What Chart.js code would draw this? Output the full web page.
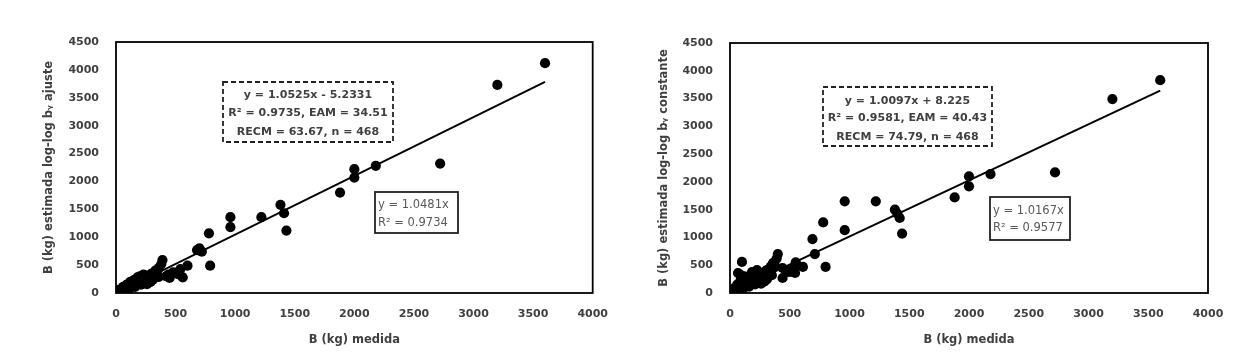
<!DOCTYPE html>
<html>
<head>
<meta charset="utf-8">
<script src="https://cdn.jsdelivr.net/npm/chart.js@4"></script>
<style>
  body { margin: 0; background: #fff; }
  #tudo { position: relative; width: 1243px; height: 363px; }
  #tudo canvas { position: absolute; top: 0; }
</style>
</head>
<body>
<div id="tudo">
  <canvas id="g1" width="615" height="363" style="left:0"></canvas>
  <canvas id="g2" width="628" height="363" style="left:615px"></canvas>
</div>
<script>
// B medida x B estimada (log-log b_y ajuste)
const pontosAjuste = [
  [3600,4120],[3200,3730],[2720,2320],[2180,2280],[2000,2220],[2000,2070],[1880,1800],
  [1380,1580],[1410,1430],[1430,1120],[1220,1360],[960,1360],[960,1180],[780,1070],
  [700,800],[680,770],[720,740],[790,490],[600,490],[560,280],[540,430],[520,340],
  [390,590],[380,520],[360,450],[330,400],[450,270],[420,300],[480,370],[440,330],
  [360,290],[300,350],
  [5,4],[8,10],[10,7],[12,14],[15,12],[18,20],[20,17],[22,26],[25,22],[28,33],[30,27],
  [32,38],[35,30],[38,45],[40,36],[42,50],[45,40],[48,58],[50,44],[52,62],[55,50],
  [58,70],[60,52],[62,75],[65,58],[68,82],[70,62],[72,90],[75,68],[78,95],[80,70],
  [82,100],[85,78],[88,110],[90,80],[95,120],[100,90],[105,130],[110,100],[115,140],
  [120,108],[125,150],[130,118],[135,165],[140,125],[145,175],[150,135],[155,190],
  [160,145],[165,200],[170,150],[175,215],[180,160],[185,230],[190,170],[200,250],
  [205,185],[210,270],[220,200],[225,285],[230,210],[240,300],[245,220],[250,240],
  [260,310],[265,230],[270,180],[280,260],[290,200],[300,280],[310,240],[320,330],
  [340,380],[350,310],[30,60],[60,110],[90,150],[120,200],[150,230],[180,280],
  [200,300],[230,330],[70,40],[110,70],[160,110],[210,150],[260,160]
];
// B medida x B estimada (log-log b_y constante)
const pontosConstante = [
  [3600,3830],[3200,3490],[2720,2170],[2180,2140],[2000,2100],[2000,1920],[1880,1720],
  [1380,1500],[1400,1430],[1420,1350],[1440,1070],[1220,1650],[960,1650],[960,1130],
  [780,1270],[690,970],[710,700],[800,470],[610,470],[550,550],[560,500],[470,400],
  [440,270],[400,700],[390,620],[360,540],[380,480],[340,470],[300,400],[100,560],
  [84,330],[120,300],[500,380],[520,420],[440,450],[184,378],[226,414],[310,414],
  [352,504],[477,378],[544,360],[67,360],
  [5,6],[8,12],[10,9],[12,18],[15,14],[18,26],[20,20],[22,34],[25,25],[28,42],[30,30],
  [32,50],[35,34],[38,60],[40,40],[42,70],[45,45],[48,80],[50,48],[52,90],[55,55],
  [58,100],[60,56],[62,110],[65,62],[68,120],[70,66],[72,135],[75,72],[78,150],[80,74],
  [82,160],[85,82],[88,180],[90,86],[95,200],[100,92],[105,210],[110,104],[115,230],
  [120,112],[125,240],[130,122],[135,250],[140,128],[145,260],[150,138],[155,280],
  [160,148],[165,290],[170,154],[175,300],[180,162],[185,320],[190,172],[200,330],
  [205,188],[210,340],[220,204],[225,350],[230,214],[240,300],[245,224],[250,260],
  [260,330],[265,236],[270,190],[280,280],[290,210],[300,300],[310,250],[320,350],
  [340,390],[350,320],[30,80],[60,150],[90,240],[120,260],[150,200],[180,250],
  [200,280],[230,300],[70,45],[110,75],[160,115],[210,155],[260,170]
];
// linhas de tendência (extremos)
const linhaAjuste = [[0,-5],[3600,3784]];
const linhaConstante = [[0,8],[3600,3643]];

const ticksX = [0, 4000, 500];
const ticksY = [0, 4500, 500];

const tituloX = 'B (kg) medida';
const tituloY1 = 'B (kg) estimada log-log b\u1d67 ajuste';
const tituloY2 = 'B (kg) estimada log-log b\u1d67 constante';

const textoTraco1 = ['y = 1.0525x - 5.2331', 'R\u00b2 = 0.9735, EAM = 34.51', 'RECM = 63.67, n = 468'];
const textoCheio1 = ['y = 1.0481x', 'R\u00b2 = 0.9734'];
const textoTraco2 = ['y = 1.0097x + 8.225', 'R\u00b2 = 0.9581, EAM = 40.43', 'RECM = 74.79, n = 468'];
const textoCheio2 = ['y = 1.0167x', 'R\u00b2 = 0.9577'];

const fonte = "'DejaVu Sans', sans-serif";

const molduras = {
  id: 'molduras',
  afterDraw(chart, args, o) {
    const ctx = chart.ctx;
    const a = chart.chartArea;
    ctx.save();
    ctx.strokeStyle = '#000';
    ctx.lineWidth = 1.8;
    ctx.strokeRect(a.left, a.top, a.right - a.left, a.bottom - a.top);

    // caixa tracejada
    const t = o.traco;
    ctx.setLineDash([5, 3]);
    ctx.lineWidth = 1.8;
    ctx.strokeStyle = '#222';
    ctx.strokeRect(a.left + t.x, a.top + t.y, t.w, t.h);
    ctx.setLineDash([]);
    ctx.fillStyle = '#404040';
    ctx.font = 'bold 11px ' + fonte;
    ctx.textAlign = 'center';
    ctx.textBaseline = 'middle';
    t.linhas.forEach((s, i) => ctx.fillText(s, a.left + t.x + t.w / 2, a.top + t.ly[i]));

    // caixa cheia
    const c = o.cheio;
    ctx.fillStyle = '#fff';
    ctx.fillRect(a.left + c.x, a.top + c.y, c.w, c.h);
    ctx.lineWidth = 1.8;
    ctx.strokeStyle = '#222';
    ctx.strokeRect(a.left + c.x, a.top + c.y, c.w, c.h);
    ctx.fillStyle = '#595959';
    ctx.font = '11.5px ' + fonte;
    ctx.textAlign = 'left';
    c.linhas.forEach((s, i) => ctx.fillText(s, a.left + c.x + 3, a.top + c.ly[i]));
    ctx.restore();
  }
};

function montar(id, pontos, linha, tituloY, pad, larguraY, alturaX, traco, cheio) {
  const eixo = (ext, titulo, horiz) => ({
    type: 'linear',
    min: ext[0], max: ext[1],
    ticks: {
      stepSize: ext[2],
      color: '#404040',
      padding: horiz ? 7 : 9,
      font: { family: fonte, size: 11, weight: 'bold' },
      callback: v => String(v)
    },
    grid: { display: false },
    border: { display: false },
    title: {
      display: true, text: titulo, color: '#404040', padding: 0,
      font: { family: fonte, size: 11.5, weight: 'bold' }
    },
    afterFit: s => { if (horiz) s.height = alturaX; else s.width = larguraY; }
  });
  return new Chart(document.getElementById(id), {
    type: 'scatter',
    data: {
      datasets: [
        {
          type: 'line',
          data: linha.map(p => ({ x: p[0], y: p[1] })),
          borderColor: '#000', borderWidth: 2, pointRadius: 0
        },
        {
          data: pontos.map(p => ({ x: p[0], y: p[1] })),
          backgroundColor: '#000', borderColor: '#000', pointRadius: 5.1, borderWidth: 0
        }
      ]
    },
    options: {
      responsive: false,
      animation: false,
      layout: { padding: pad },
      scales: {
        x: eixo(ticksX, tituloX, true),
        y: eixo(ticksY, tituloY, false)
      },
      plugins: {
        legend: { display: false },
        tooltip: { enabled: false },
        molduras: { traco, cheio }
      }
    },
    plugins: [molduras]
  });
}

montar('g1', pontosAjuste, linhaAjuste, tituloY1,
  { left: 42, top: 42, right: 17, bottom: 16 }, 74, 54,
  { x: 107, y: 40, w: 170, h: 60, ly: [53, 71, 90], linhas: textoTraco1 },
  { x: 259, y: 150, w: 83, h: 41, ly: [163, 181], linhas: textoCheio1 });

montar('g2', pontosConstante, linhaConstante, tituloY2,
  { left: 42, top: 43, right: 35, bottom: 16 }, 73, 54,
  { x: 93, y: 44, w: 169, h: 59, ly: [58, 75, 94], linhas: textoTraco2 },
  { x: 260, y: 154, w: 80, h: 43, ly: [168, 185], linhas: textoCheio2 });
</script>
</body>
</html>
